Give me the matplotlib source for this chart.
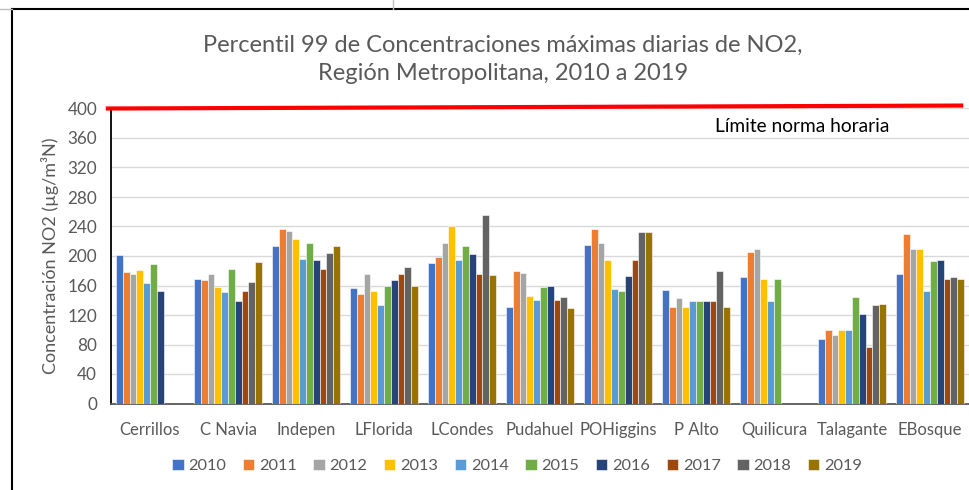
import numpy as np
import matplotlib.pyplot as plt
from matplotlib.lines import Line2D

plt.rcParams['font.family'] = ['Lato', 'DejaVu Sans']

stations = ['Cerrillos', 'C Navia', 'Indepen', 'LFlorida', 'LCondes', 'Pudahuel',
            'POHiggins', 'P Alto', 'Quilicura', 'Talagante', 'EBosque']
years = ['2010', '2011', '2012', '2013', '2014', '2015', '2016', '2017', '2018', '2019']
colors = ['#4472c4', '#ed7d31', '#a5a5a5', '#ffc000', '#5b9bd5', '#70ad47',
          '#264478', '#9e480e', '#636363', '#997300']

nan = np.nan
# values per year, one entry per station
y2010 = [202, 169, 214, 157, 190, 131, 215, 154, 172, 88, 175]
y2011 = [178, 168, 236, 149, 199, 180, 236, 131, 205, 100, 230]
y2012 = [175, 175, 234, 176, 218, 177, 218, 143, 209, 93, 209]
y2013 = [181, 158, 223, 153, 240, 146, 194, 131, 169, 99, 209]
y2014 = [164, 151, 196, 134, 195, 141, 155, 139, 139, 100, 152]
y2015 = [189, 183, 217, 160, 213, 158, 153, 139, 169, 145, 193]
y2016 = [153, 139, 194, 168, 203, 160, 173, 139, nan, 122, 195]
y2017 = [nan, 153, 183, 176, 175, 141, 194, 139, nan, 76, 169]
y2018 = [nan, 165, 204, 185, 256, 144, 232, 180, nan, 133, 171]
y2019 = [nan, 192, 213, 160, 174, 130, 232, 131, nan, 135, 169]
series = [y2010, y2011, y2012, y2013, y2014, y2015, y2016, y2017, y2018, y2019]

limit = 400

fig = plt.figure(figsize=(9.69, 4.90), dpi=100)
ax = fig.add_axes([111/969, 86.5/490, 858/969, 295/490])

x = np.arange(len(stations))
w = 0.087
for i, vals in enumerate(series):
    ax.bar(x + (i - 4.5) * w, vals, w, color=colors[i], label=years[i],
           edgecolor='white', linewidth=0.4, zorder=3)

ax.set_xlim(-0.5, 10.5)
ax.set_ylim(0, 400)
ax.set_yticks(np.arange(0, 401, 40))
ax.set_xticks(x)
ax.set_xticklabels(stations)
ax.tick_params(axis='both', length=0, labelsize=12.3, colors='#595959')
ax.tick_params(axis='x', labelsize=12, pad=13)
ax.tick_params(axis='y', pad=10)
ax.grid(axis='y', color='#d9d9d9', linewidth=1, zorder=0)
for s in ['top', 'right']:
    ax.spines[s].set_visible(False)
ax.spines['left'].set_color('black')
ax.spines['left'].set_linewidth(1.3)
ax.spines['bottom'].set_color('#595959')
ax.spines['bottom'].set_linewidth(1.3)
ax.set_ylabel('Concentración NO2 (µg/m³N)', fontsize=13, color='#595959', labelpad=6)

# norm limit line
ax.plot([-0.54, 10.4], [limit, limit + 4], color='#ff0000', linewidth=3,
        clip_on=False, zorder=5)
ax.text(7.24, 376, 'Límite norma horaria', fontsize=13.8, color='black', va='center')

fig.text(503/969, 1 - 59/490, 'Percentil 99 de Concentraciones máximas diarias de NO2,\nRegión Metropolitana, 2010 a 2019',
         ha='center', va='center', fontsize=17, color='#595959', linespacing=1.42)

ax.legend(loc='center', bbox_to_anchor=(517/969, 1 - 466/490), bbox_transform=fig.transFigure,
          ncol=10, frameon=False, fontsize=11.8, labelcolor='#595959',
          handlelength=0.7, handleheight=0.7, handletextpad=0.3, columnspacing=1.0)

# outer frame
fig.add_artist(Line2D([11.5/969, 11.5/969], [0, 1 - 9/490], color='black', linewidth=1.5))
fig.add_artist(Line2D([11.5/969, 1], [1 - 9/490, 1 - 9/490], color='black', linewidth=1.5))
fig.add_artist(Line2D([0, 11.5/969], [1 - 9/490, 1 - 9/490], color='#bfbfbf', linewidth=1))
fig.add_artist(Line2D([393/969, 393/969], [1 - 9/490, 1], color='#bfbfbf', linewidth=1))

fig.savefig('out.png', dpi=100)
